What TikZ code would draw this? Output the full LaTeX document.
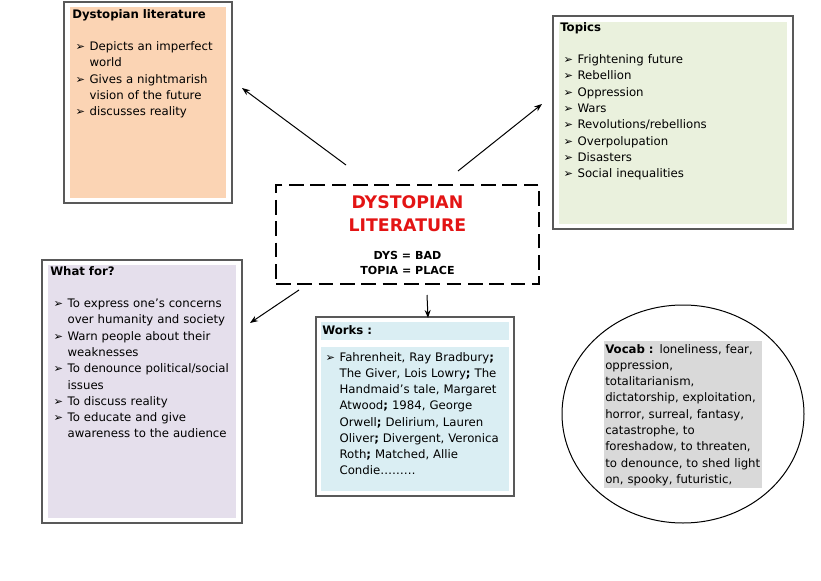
\documentclass[tikz,border=0pt]{standalone}
\usepackage{fontspec}
\setmainfont{DejaVu Sans}
\usetikzlibrary{arrows.meta,fit,positioning,shapes.geometric}

\definecolor{peach}{HTML}{FBD4B4}
\definecolor{sage}{HTML}{EAF1DD}
\definecolor{lilac}{HTML}{E5DFEC}
\definecolor{iceblue}{HTML}{DAEEF3}
\definecolor{vocabgray}{HTML}{D9D9D9}
\definecolor{framegray}{HTML}{595959}
\definecolor{corered}{HTML}{E31414}

\newcommand{\bodyfont}{\fontsize{8.8}{12.2}\selectfont}
\newcommand{\bulsym}{{\fontsize{8.5}{8.5}\selectfont ➢}}
\newcommand{\litem}{\par\noindent\hangindent=13pt\hangafter=1\makebox[13pt][l]{\hspace{2.5pt}\bulsym}\ignorespaces}
\newcommand{\brk}{\hfil\break}
\newcommand{\titlegap}{\par\vspace{12.2pt}}

\tikzset{
  frame/.style={draw=framegray, line width=0.8pt, inner sep=0pt},
  boxtext/.style={anchor=north west, inner sep=0pt, align=left, font=\bodyfont},
  corebox/.style={draw, line width=2.2pt, dash pattern=on 11pt off 5pt, inner sep=0pt},
  conn/.style={-{Stealth[length=6pt,width=4.5pt]}, line width=0.75pt}
}

\begin{document}
\begin{tikzpicture}[x=0.75pt, y=-0.75pt]
\useasboundingbox (0,0) rectangle (821,581);
\fill[peach]     (70,7) rectangle (226,198);
\fill[sage]      (559,22) rectangle (787,224);
\fill[lilac]     (48,265) rectangle (236,518);
\fill[iceblue]   (321,322) rectangle (509,340);
\fill[iceblue]   (321,347) rectangle (509,491);
\fill[vocabgray] (604,341) rectangle (762,488);
\node[frame, fit={(64,2) (232,203)}]     (dlit) {};
\node[frame, fit={(553,16) (793,229)}]   (topics) {};
\node[frame, fit={(42,260) (242,523)}]   (whatfor) {};
\node[frame, fit={(316,317) (514,496)}]  (works) {};
\node[corebox, fit={(276,185) (539,284)}] (core) {};
\node[draw, ellipse, line width=0.75pt, minimum width=181.5pt, minimum height=163.5pt, inner sep=0pt] (vocab) at (683,414) {};
\node[font=\fontsize{13}{17.25}\selectfont\bfseries, text=corered, align=center] (coretitle) at (407.5,213.5) {DYSTOPIAN\\LITERATURE};
\node[font=\fontsize{8.3}{11.25}\selectfont\bfseries, align=center] (coresub) at (407.5,262.5) {DYS = BAD\\TOPIA = PLACE};
\node[boxtext, text width=130pt] (dlittxt) at (72,9) {\textbf{Dystopian literature}\titlegap
\litem Depicts an imperfect\brk world
\litem Gives a nightmarish\brk vision of the future
\litem discusses reality\par};
\node[boxtext, text width=170pt] (topicstxt) at (560,22) {\textbf{Topics}\titlegap
\litem Frightening future
\litem Rebellion
\litem Oppression
\litem Wars
\litem Revolutions/rebellions
\litem Overpolupation
\litem Disasters
\litem Social inequalities\par};
\node[boxtext, text width=145pt] (whatfortxt) at (50,266) {\textbf{What for?}\titlegap
\litem To express one’s concerns\brk over humanity and society
\litem Warn people about their\brk weaknesses
\litem To denounce political/social\brk issues
\litem To discuss reality
\litem To educate and give\brk awareness to the audience\par};
\node[boxtext, text width=140pt] (workstxt) at (322,325) {\textbf{Works :}\par\vspace{8pt}
\litem Fahrenheit, Ray Bradbury\textbf{;}\brk The Giver, Lois Lowry\textbf{;} The\brk Handmaid’s tale, Margaret\brk Atwood\textbf{;} 1984, George\brk Orwell\textbf{;} Delirium, Lauren\brk Oliver\textbf{;} Divergent, Veronica\brk Roth\textbf{;} Matched, Allie\brk Condie………\par};
\node[boxtext, text width=125pt] (vocabtxt) at (605,344) {\textbf{Vocab :} loneliness, fear,\\oppression,\\totalitarianism,\\dictatorship, exploitation,\\horror, surreal, fantasy,\\catastrophe, to\\foreshadow, to threaten,\\to denounce, to shed light\\on, spooky, futuristic,};
\coordinate (dlit-from) at (346,165);
\coordinate (dlit-to) at (242,88);
\coordinate (topics-from) at (458,171);
\coordinate (topics-to) at (542,104);
\coordinate (whatfor-from) at (299,290);
\coordinate (whatfor-to) at (250,323);
\coordinate (works-from) at (427,295);
\coordinate (works-to) at (428,318);
\foreach \a in {dlit, topics, whatfor, works}{
\draw[conn] (\a-from) -- (\a-to);
}
\end{tikzpicture}
\end{document}
